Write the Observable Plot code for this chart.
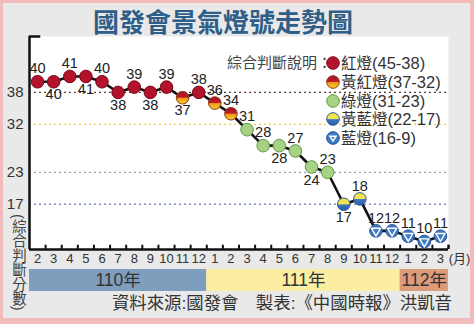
<!DOCTYPE html>
<html><head><meta charset="utf-8">
<script src="https://cdn.jsdelivr.net/npm/d3@7"></script>
<script src="https://cdn.jsdelivr.net/npm/@observablehq/plot@0.6"></script>
<style>
html,body{margin:0;padding:0;}
body{width:474px;height:324px;position:relative;overflow:hidden;background:#e9e9e9;font-family:"Liberation Sans",Arial,"Noto Sans CJK TC",sans-serif;color:#333;}
#border{position:absolute;left:0;top:0;width:474px;height:324px;box-sizing:border-box;border:3px solid #f3bcbc;border-bottom-width:6px;border-right-width:4px;pointer-events:none;}
#title{position:absolute;left:0;width:446px;top:8px;line-height:26px;text-align:center;font-weight:bold;font-size:26px;font-family:"Noto Sans CJK TC",sans-serif;color:#2f5f88;}
#chart{position:absolute;left:0;top:30px;}
#years{position:absolute;left:0;top:269px;}
#ylab{position:absolute;left:10px;top:214px;writing-mode:vertical-rl;font-size:14.5px;line-height:16px;font-family:"Liberation Sans",Arial,"Noto Sans CJK TC",sans-serif;color:#444;}
#caption{position:absolute;right:22px;top:293px;font-size:17.4px;line-height:20px;font-family:"Liberation Sans",Arial,"Noto Sans CJK TC",sans-serif;color:#333;white-space:nowrap;}
.leg{position:absolute;font-size:15px;line-height:18px;font-family:"Liberation Sans",Arial,"Noto Sans CJK TC",sans-serif;color:#333;white-space:nowrap;}
.leg .rng{font-size:16.5px;}
.leg .nm{font-size:15.5px;}
.sw{position:absolute;}
</style>
</head><body>
<svg width="0" height="0" style="position:absolute">
  <defs>
    <linearGradient id="gRY" x1="0" y1="0" x2="0" y2="1">
      <stop offset="0" stop-color="#a50f27"/><stop offset="0.46" stop-color="#c41a2a"/>
      <stop offset="0.54" stop-color="#ee9a12"/><stop offset="1" stop-color="#f8d52e"/>
    </linearGradient>
    <linearGradient id="gYB" x1="0" y1="0" x2="0" y2="1">
      <stop offset="0" stop-color="#efe03a"/><stop offset="0.48" stop-color="#f4e65a"/>
      <stop offset="0.55" stop-color="#3b74bd"/><stop offset="1" stop-color="#2d62aa"/>
    </linearGradient>
  </defs>
</svg>
<div id="title">國發會景氣燈號走勢圖</div>
<div id="chart"></div>
<div id="years"></div>
<div id="ylab">(綜合判斷分數)</div>
<div id="caption">資料來源:國發會　製表:《中國時報》洪凱音</div>
<div id="legend"></div>
<div id="border"></div>
<script>
// ---- data ----
const months = [2,3,4,5,6,7,8,9,10,11,12, 1,2,3,4,5,6,7,8,9,10,11,12, 1,2,3];
const rocYears = [110,110,110,110,110,110,110,110,110,110,110, 111,111,111,111,111,111,111,111,111,111,111,111, 112,112,112];
const scores = [40,40,41,41,40,38,39,38,39,37,38, 36,34,31,28,28,27,24,23,17,18,12,12, 11,10,11];
const signalNames = ["紅燈","黃紅燈","綠燈","黃藍燈","藍燈"];
const signalRanges = ["45-38","37-32","31-23","22-17","16-9"];
const signalLower = [38,32,23,17,9];
const gridValues = [38,32,23,17];
const monthUnit = "(月)";
const yearSuffix = "年";
const legendTitle = "綜合判斷說明：";

// ---- styles ----
const fills = ["#b3122c","url(#gRY)","#a6d281","url(#gYB)","#3c7bc5"];
const strokes = ["#7a0a1c","#8a3a10","#5f9a4a","#2a5a9a","#1f4f8f"];
const gridColors = ["#5a3a3a","#e2cf4a","#8aa0a8","#7d8fae"];
const narrow = '"Liberation Sans Narrow","Arial Narrow",Arial,sans-serif';
const labelBelow = new Set([1,3,5,7,9,15,17,19]);

const signalOf = v => signalLower.findIndex(t => v >= t);
const data = scores.map((v,i)=>({i, v, m: months[i], y: rocYears[i], sig: signalOf(v)}));

const X0 = -0.5, X1 = months.length - 0.5;
const Y0 = 8.5, Y1 = 48.5;
const boundaries = d3.range(0.5, months.length).concat([X1]);

const marks = [
  Plot.frame({fill:"white", stroke:null}),
  ...gridValues.map((g,k)=>Plot.ruleY([g], {stroke: gridColors[k], strokeDasharray:"2,3", strokeWidth:1.3})),
  Plot.ruleX([X0], {stroke:"#111", strokeWidth:2.5}),
  Plot.ruleY([Y0], {stroke:"#111", strokeWidth:2.5}),
  Plot.ruleY([Y1], {x1: X0, x2: X0 + 0.7, stroke:"#111", strokeWidth:2.5}),
  Plot.ruleX(boundaries, {y1: Y0, y2: Y0 + 0.8, stroke:"#111", strokeWidth:2}),
  Plot.axisY(gridValues, {tickSize:0, tickPadding:6, fontSize:15, fill:"#333", label:null, fontFamily:"'Liberation Sans',Arial,sans-serif"}),
  Plot.axisX(d3.range(months.length), {tickSize:0, tickPadding:4, fontSize:13, fill:"#333", label:null, tickFormat: i => months[i], fontFamily: narrow}),
  Plot.text([monthUnit], {frameAnchor:"bottom-right", dx:11, dy:13, fontSize:13, fill:"#333", textAnchor:"middle", fontFamily:"'Liberation Sans',Arial,'Noto Sans CJK TC',sans-serif"}),
  Plot.line(data, {x:"i", y:"v", stroke:"#111", strokeWidth:2.6}),
  ...signalNames.map((n,k)=>Plot.dot(data.filter(d=>d.sig===k), {x:"i", y:"v", r:6.3, fill: fills[k], stroke: strokes[k], strokeWidth:1})),
  Plot.dot(data.filter(d=>d.sig===4), {x:"i", y:"v", symbol:"triangle", rotate:180, r:3.4, fill:"none", stroke:"white", strokeWidth:1.4}),
  Plot.text(data.filter(d=>!labelBelow.has(d.i)), {x:"i", y:"v", text:"v", dy:-13, fontSize:14.5, fill:"#222", fontFamily: narrow}),
  Plot.text(data.filter(d=>labelBelow.has(d.i)), {x:"i", y:"v", text:"v", dy:13, fontSize:14.5, fill:"#222", fontFamily: narrow})
];

const chart = Plot.plot({
  width:474, height:242,
  marginLeft:29, marginRight:26, marginTop:6, marginBottom:23,
  x:{domain:[X0,X1], axis:null},
  y:{domain:[Y0,Y1], axis:null},
  style:{background:"transparent", overflow:"visible"},
  marks
});
document.getElementById("chart").append(chart);

// ---- year bands ----
const yearColors = {110:"#7f9ebe", 111:"#fbeda2", 112:"#de9b7a"};
const yearList = Array.from(new Set(rocYears));
const yearData = yearList.map(y => {
  const idx = rocYears.map((v,i)=>v===y?i:-1).filter(i=>i>=0);
  return {label: y + yearSuffix, start: idx[0], end: idx[idx.length-1] + 1, color: yearColors[y]};
});
const yearsPlot = Plot.plot({
  width:474, height:22,
  marginLeft:29, marginRight:26, marginTop:0, marginBottom:0,
  x:{domain:[X0,X1], axis:null},
  style:{background:"transparent", overflow:"visible"},
  marks:[
    ...yearData.map(d=>Plot.rect([d], {x1: e=>e.start-0.5, x2: e=>e.end-0.5, fill: d.color})),
    Plot.text(yearData, {x: d=>(d.start+d.end-1)/2, text:"label", fontSize:17.5, fill:"#333", fontFamily:"'Liberation Sans',Arial,'Noto Sans CJK TC',sans-serif"})
  ]
});
document.getElementById("years").append(yearsPlot);

// ---- legend ----
const leg = document.getElementById("legend");
const rowY = [63, 82, 100.5, 119, 138];
const t = document.createElement("div");
t.className = "leg"; t.style.left = "227px"; t.style.top = (rowY[0]-9) + "px"; t.style.color = "#444";
t.textContent = legendTitle;
leg.append(t);
signalNames.forEach((n,k)=>{
  const ns = "http://www.w3.org/2000/svg";
  const s = document.createElementNS(ns, "svg");
  s.setAttribute("width", 16); s.setAttribute("height", 16);
  s.setAttribute("class","sw");
  s.style.left = (333-8) + "px"; s.style.top = (rowY[k]-8) + "px";
  const c = document.createElementNS(ns, "circle");
  c.setAttribute("cx", 8); c.setAttribute("cy", 8); c.setAttribute("r", 6.3);
  c.setAttribute("fill", fills[k]); c.setAttribute("stroke", strokes[k]);
  s.append(c);
  if (k === 4) {
    const p = document.createElementNS(ns, "path");
    p.setAttribute("d", "M4.8,6.2 L11.2,6.2 L8,11 Z");
    p.setAttribute("fill","none"); p.setAttribute("stroke","white"); p.setAttribute("stroke-width","1.4");
    s.append(p);
  }
  leg.append(s);
  const d = document.createElement("div");
  d.className = "leg"; d.style.left = "341px"; d.style.top = (rowY[k]-9) + "px";
  const nm = document.createElement("span"); nm.className = "nm"; nm.textContent = n;
  const rg = document.createElement("span"); rg.className = "rng"; rg.textContent = "(" + signalRanges[k] + ")";
  d.append(nm, rg);
  leg.append(d);
});
</script>
</body></html>
